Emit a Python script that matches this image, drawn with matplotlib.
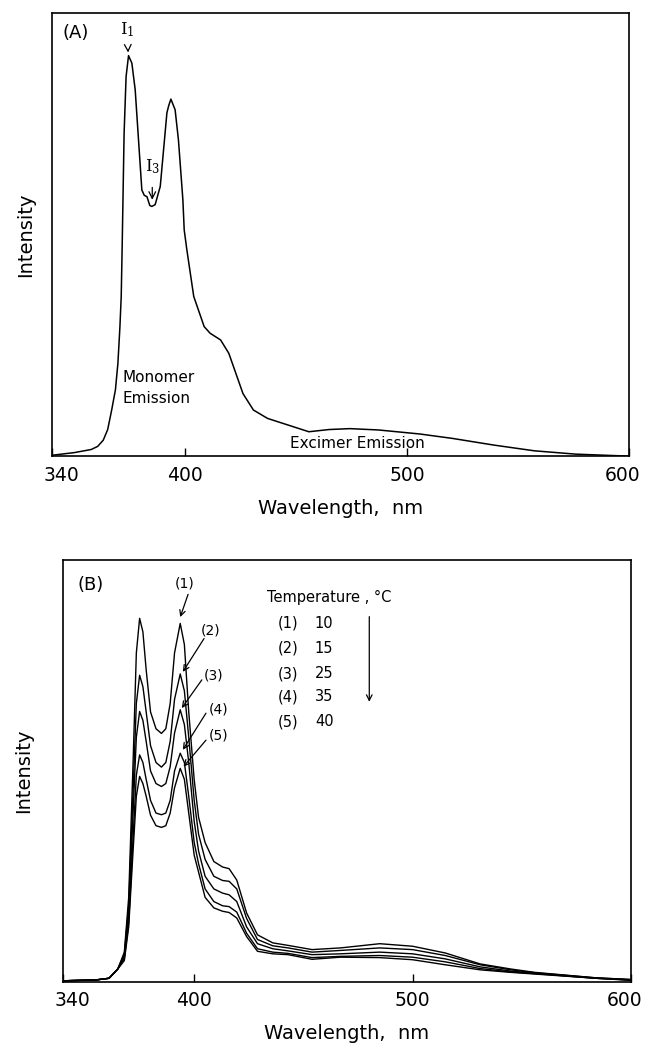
import matplotlib
matplotlib.use("Agg")
import matplotlib.pyplot as plt
from matplotlib.transforms import ScaledTranslation

# ---- Panel A: single pyrene emission spectrum ----
wl_a = [340, 350, 357.6, 360.5, 363, 365, 366.8, 368.5, 369.6, 370.5, 371.1, 371.5,
        372.4, 373.3, 374.4, 375.9, 377.4, 378.9, 380.4, 381.5, 382.7, 384.0, 384.9,
        386.4, 388.7, 390.6, 391.7, 392.5, 393.5, 395.4, 396.9, 398.9, 399.5, 400.7,
        403.8, 408.5, 411.2, 415.9, 419.6, 426.0, 430.7, 437.1, 446.4, 455.7, 464.9,
        474.2, 487.1, 505.6, 520.4, 539, 557.4, 576, 600]
int_a = [0.002, 0.008, 0.015, 0.022, 0.036, 0.06, 0.104, 0.15, 0.209, 0.29, 0.36, 0.465,
         0.728, 0.856, 0.903, 0.886, 0.826, 0.713, 0.600, 0.588, 0.585, 0.565, 0.563,
         0.567, 0.608, 0.713, 0.774, 0.79, 0.805, 0.781, 0.713, 0.578, 0.51, 0.465,
         0.36, 0.292, 0.277, 0.262, 0.232, 0.141, 0.104, 0.085, 0.07, 0.055, 0.06,
         0.062, 0.059, 0.05, 0.04, 0.025, 0.012, 0.0045, 0.0]

# ---- Panel B: spectra at different temperatures ----
wl_b = [340, 355, 361, 365, 368, 370, 372, 373.5, 375, 376.5, 378, 380, 382.5, 385,
        387, 389, 391, 393.6, 395.5, 397.5, 400, 402, 405, 409, 413, 416, 419.5, 424,
        429, 436, 443, 454, 467, 485, 500, 515, 531, 545, 556, 584, 600]
int_b1 = [0.002, 0.004, 0.008, 0.03, 0.07, 0.2, 0.52, 0.78, 0.862, 0.83, 0.74, 0.64, 0.60,
          0.589, 0.60, 0.66, 0.78, 0.85, 0.80, 0.64, 0.479, 0.39, 0.33, 0.285, 0.272,
          0.268, 0.241, 0.163, 0.111, 0.092, 0.086, 0.076, 0.080, 0.090, 0.084, 0.068,
          0.042, 0.030, 0.022, 0.009, 0.005]
int_b2 = [0.002, 0.004, 0.008, 0.03, 0.065, 0.18, 0.45, 0.66, 0.727, 0.70, 0.64, 0.56, 0.52,
          0.509, 0.52, 0.57, 0.67, 0.73, 0.69, 0.58, 0.43, 0.35, 0.29, 0.25, 0.24,
          0.238, 0.22, 0.15, 0.10, 0.085, 0.08, 0.07, 0.074, 0.080, 0.076, 0.062,
          0.040, 0.028, 0.021, 0.009, 0.005]
int_b3 = [0.002, 0.004, 0.008, 0.03, 0.06, 0.16, 0.40, 0.58, 0.641, 0.62, 0.57, 0.50, 0.47,
          0.463, 0.47, 0.51, 0.59, 0.645, 0.61, 0.52, 0.38, 0.31, 0.25, 0.22, 0.21,
          0.206, 0.19, 0.13, 0.09, 0.078, 0.073, 0.064, 0.066, 0.070, 0.066, 0.054,
          0.035, 0.025, 0.020, 0.008, 0.004]
int_b4 = [0.002, 0.004, 0.008, 0.03, 0.055, 0.14, 0.34, 0.49, 0.538, 0.52, 0.48, 0.43, 0.40,
          0.396, 0.40, 0.43, 0.50, 0.542, 0.52, 0.44, 0.33, 0.28, 0.22, 0.19, 0.18,
          0.178, 0.165, 0.115, 0.078, 0.07, 0.067, 0.057, 0.060, 0.062, 0.058, 0.047,
          0.031, 0.023, 0.019, 0.008, 0.004]
int_b5 = [0.002, 0.004, 0.008, 0.03, 0.05, 0.13, 0.31, 0.44, 0.487, 0.47, 0.44, 0.395, 0.37,
          0.366, 0.37, 0.40, 0.46, 0.506, 0.48, 0.40, 0.30, 0.26, 0.20, 0.175, 0.167,
          0.164, 0.151, 0.107, 0.072, 0.066, 0.064, 0.053, 0.058, 0.057, 0.052, 0.040,
          0.028, 0.022, 0.018, 0.008, 0.003]
curves_b = [int_b1, int_b2, int_b3, int_b4, int_b5]

curve_labels = ["(1)", "(2)", "(3)", "(4)", "(5)"]
temps = ["10", "15", "25", "35", "40"]
xticks = [340, 400, 500, 600]

fig = plt.figure(figsize=(6.45, 10.51), dpi=100)
axA = fig.add_axes([0.081, 0.566, 0.894, 0.422])
axB = fig.add_axes([0.098, 0.066, 0.880, 0.401])

for ax in (axA, axB):
    ax.set_xlim(340, 600)
    ax.set_ylim(0, 1)
    ax.set_xticks(xticks)
    ax.set_xticklabels([str(t) for t in xticks])
    ax.set_yticks([])
    ax.tick_params(axis='x', direction='in', length=6, width=1, labelsize=13.5, pad=7)
    for s in ax.spines.values():
        s.set_linewidth(1.2)
    ax.set_xlabel("Wavelength,  nm", fontsize=14, labelpad=10)
    # end labels sit slightly inside the box in the original
    labs = ax.get_xticklabels()
    labs[0].set_transform(labs[0].get_transform() + ScaledTranslation(0.09, 0, fig.dpi_scale_trans))
    labs[-1].set_transform(labs[-1].get_transform() + ScaledTranslation(-0.06, 0, fig.dpi_scale_trans))

axA.set_ylabel("Intensity", fontsize=14, labelpad=12)
axB.set_ylabel("Intensity", fontsize=14, labelpad=22)

# panel A
axA.plot(wl_a, int_a, color='black', lw=1.1)
axA.text(0.017, 0.955, "(A)", transform=axA.transAxes, fontsize=13, va='center', ha='left')
axA.annotate(r"$\mathrm{I}_1$", xy=(374.2, 0.91), xytext=(373.8, 0.962), ha='center', va='center',
             fontsize=12, math_fontfamily='dejavuserif',
             arrowprops=dict(arrowstyle='->', lw=0.9, color='black', shrinkA=6, shrinkB=0))
axA.annotate(r"$\mathrm{I}_3$", xy=(385.1, 0.578), xytext=(385.1, 0.652), ha='center', va='center',
             fontsize=12, math_fontfamily='dejavuserif',
             arrowprops=dict(arrowstyle='->', lw=0.9, color='black', shrinkA=6, shrinkB=0))
axA.text(371.5, 0.177, "Monomer", fontsize=11, ha='left', va='center')
axA.text(371.5, 0.129, "Emission", fontsize=11, ha='left', va='center')
axA.text(477.4, 0.029, "Excimer Emission", fontsize=11, ha='center', va='center')

# panel B
for y in curves_b:
    axB.plot(wl_b, y, color='black', lw=1.0)
axB.text(0.026, 0.94, "(B)", transform=axB.transAxes, fontsize=13, va='center', ha='left')

lab_pos = [(395.8, 0.945), (407.3, 0.834), (408.8, 0.727), (411.1, 0.645), (411.1, 0.583)]
tail_pos = [(397.2, 0.919), (404.5, 0.814), (403.5, 0.716), (405.4, 0.637), (405.4, 0.573)]
head_pos = [(393.6, 0.865), (394.8, 0.735), (394.3, 0.649), (394.8, 0.55), (395.1, 0.51)]
for lab, lp, tp, hp in zip(curve_labels, lab_pos, tail_pos, head_pos):
    axB.text(lp[0], lp[1], lab, fontsize=10, ha='center', va='center')
    axB.annotate("", xy=hp, xytext=tp,
                 arrowprops=dict(arrowstyle='->', lw=0.9, color='black', shrinkA=0, shrinkB=0))

axB.text(433.4, 0.912, "Temperature , °C", fontsize=10.5, ha='left', va='center')
row_y = [0.85, 0.791, 0.731, 0.676, 0.617]
for lab, t, ry in zip(curve_labels, temps, row_y):
    axB.text(438.5, ry, lab, fontsize=10.5, ha='left', va='center')
    axB.text(455.3, ry, t, fontsize=10.5, ha='left', va='center')
axB.annotate("", xy=(480.2, 0.664), xytext=(480.2, 0.866),
             arrowprops=dict(arrowstyle='->', lw=0.9, color='black', shrinkA=0, shrinkB=0))

fig.savefig("out.png", dpi=100)
